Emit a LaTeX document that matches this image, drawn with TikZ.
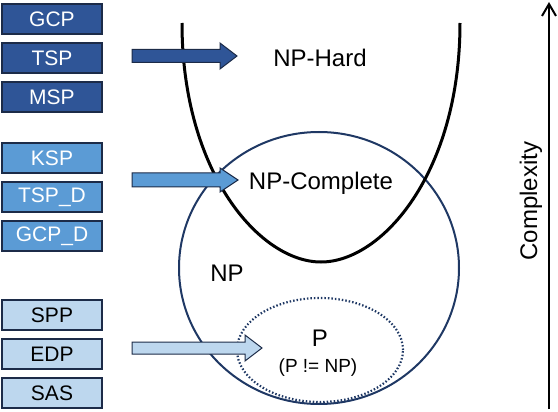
\documentclass[tikz,border=0pt]{standalone}
\usepackage{fontspec}
\setmainfont{Liberation Sans}
\usetikzlibrary{arrows.meta,positioning}
\definecolor{ink}{HTML}{000000}
\definecolor{navy}{HTML}{1F3864}
\definecolor{boxline}{HTML}{1C2B48}
\definecolor{hardblue}{HTML}{2F5597}
\definecolor{compblue}{HTML}{5B9BD5}
\definecolor{polyblue}{HTML}{BDD7EE}
\tikzset{
  probbox/.style={
    rectangle,
    draw=boxline,
    line width=1.5pt,
    minimum width=100pt,
    minimum height=30pt,
    inner sep=0pt,
    font=\fontsize{21}{25}\selectfont
  },
  hard_box/.style={probbox, fill=hardblue, text=white},
  comp_box/.style={probbox, fill=compblue, text=white},
  poly_box/.style={probbox, fill=polyblue, text=ink},
  fatarrow/.style={
    draw=boxline,
    line width=1pt,
    line join=miter
  },
  classlabel/.style={
    font=\fontsize{24}{28}\selectfont,
    text=ink
  },
  smalllabel/.style={
    font=\fontsize{19}{23}\selectfont,
    text=ink
  },
  setline/.style={
    draw=navy,
    line width=2pt
  },
  dotline/.style={
    draw=navy,
    line width=2.2pt,
    dash pattern=on 1.5pt off 2pt
  },
  hardcurve/.style={
    draw=ink,
    line width=3pt
  },
  axisline/.style={
    -{Straight Barb[length=12pt,width=14pt]},
    draw=ink,
    line width=2pt
  }
}

\begin{document}
\begin{tikzpicture}[x=1pt,y=-1pt]

  \useasboundingbox (0,0) rectangle (558,412);

  % ============================================================
  % Problem boxes, left column (three groups)
  % ============================================================
  \node[hard_box] (b_gcp) at (52,19) {GCP};
  \node[hard_box, below=7.5pt of b_gcp] (b_tsp) {TSP};
  \node[hard_box, below=7.5pt of b_tsp] (b_msp) {MSP};

  \node[comp_box] (b_ksp) at (52,158) {KSP};
  \node[comp_box, below=7.5pt of b_ksp] (b_tspd) {TSP\_D};
  \node[comp_box, below=7.5pt of b_tspd] (b_gcpd) {GCP\_D};

  \node[poly_box] (b_spp) at (52,315) {SPP};
  \node[poly_box, below=7.5pt of b_spp] (b_edp) {EDP};
  \node[poly_box, below=7.5pt of b_edp] (b_sas) {SAS};

  % ============================================================
  % Complexity classes
  % ============================================================
  % NP circle and the dotted P region inside it
  \draw[setline] (319,268) ellipse [x radius=140pt, y radius=136pt];
  \draw[dotline] (320,350) ellipse [x radius=83pt, y radius=52pt];

  % NP-hard "U" curve, open at the top
  \draw[hardcurve]
       (182,23) .. controls (182,173) and (260,262) .. (321,262)
                .. controls (382,262) and (460,173) .. (460,23);

  \node[classlabel] (lbl_hard) at (320,58) {NP-Hard};
  \node[classlabel] (lbl_comp) at (321,183) {NP-Complete};
  \node[classlabel] (lbl_np) at (227,273) {NP};
  \node[classlabel] (lbl_p) at (320,338) {P};
  \node[smalllabel] (lbl_pnp) at (318,368) {(P != NP)};

  % ============================================================
  % Block arrows from each group towards its class
  % ============================================================
  \draw[fatarrow, fill=hardblue]
       (132,49.5) -- (220,49.5) -- (220,43) -- (237,56)
       -- (220,69) -- (220,62.5) -- (132,62.5) -- cycle;
  \draw[fatarrow, fill=compblue]
       (132,173) -- (220,173) -- (220,168) -- (238,180)
       -- (220,192) -- (220,187) -- (132,187) -- cycle;
  \draw[fatarrow, fill=polyblue]
       (132,342) -- (245,342) -- (245,335) -- (262,348)
       -- (245,361) -- (245,354) -- (132,354) -- cycle;

  % ============================================================
  % Complexity axis (right side)
  % ============================================================
  \coordinate (ax_bot) at (549,409);
  \coordinate (ax_top) at (549,2);
  \draw[axisline] (ax_bot) -- (ax_top);
  \node[classlabel, rotate=90] (lbl_axis) at (531,201) {Complexity};

\end{tikzpicture}
\end{document}
